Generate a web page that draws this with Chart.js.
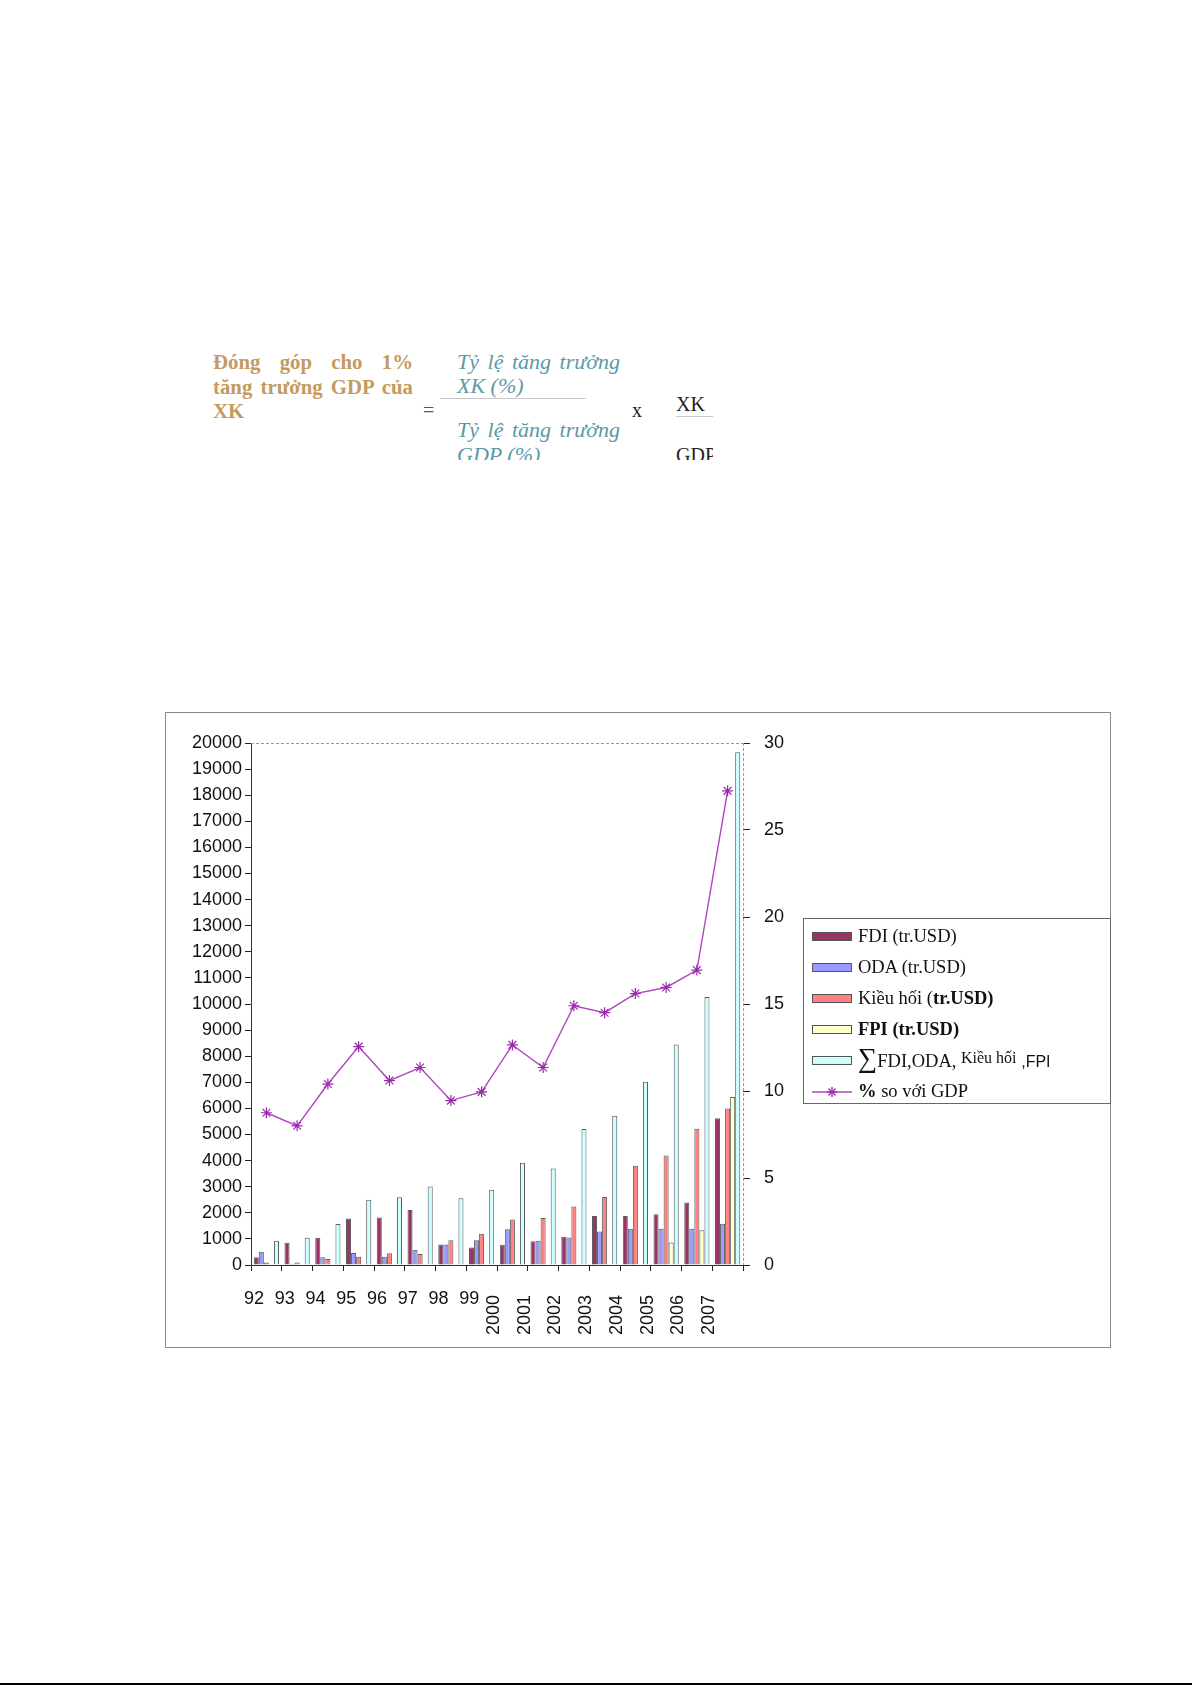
<!DOCTYPE html>
<html>
<head>
<meta charset="utf-8">
<script src="https://cdn.jsdelivr.net/npm/chart.js@4.4.1/dist/chart.umd.min.js"></script>
<style>
body{margin:0;background:#fff;width:1192px;height:1685px;position:relative;overflow:hidden;font-family:"Liberation Serif","Times New Roman",serif}
#formula{position:absolute;left:0;top:340px;width:713px;height:120px;overflow:hidden}
#formula div{position:absolute;white-space:nowrap;font-size:20px;line-height:24px}
#formula .brown{font-size:20.8px}
#formula .teal{font-size:22px}
.brown{color:#c49a5e;font-weight:bold}
.teal{color:#5b99a8;font-style:italic}
.just{text-align:justify;text-align-last:justify;white-space:normal!important;height:24px;overflow:visible}
#box{position:absolute;left:165px;top:712px;width:946px;height:636px;box-sizing:border-box;border:1px solid #8a8a8a}
#grafico{position:absolute;left:0;top:0}
#legend{position:absolute;left:803px;top:918px;width:308px;height:186px;box-sizing:border-box;border:1px solid #666;background:#fff}
.item{position:absolute;left:8px;height:31px;display:flex;align-items:center;font-size:18.5px;color:#111;white-space:nowrap}
.sw{width:40px;height:9px;border:1px solid #555;margin-right:6px;box-sizing:border-box}
#bottomLine{position:absolute;left:0;top:1683px;width:1192px;height:2px;background:#000}
</style>
</head>
<body>

<div id="formula">
  <div class="brown just" style="left:213px;top:10px;width:200px">Đóng góp cho 1%</div>
  <div class="brown just" style="left:213px;top:35px;width:200px">tăng trưởng GDP của</div>
  <div class="brown" style="left:213px;top:59px">XK</div>
  <div style="left:423px;top:58px;color:#555">=</div>
  <div class="teal just" style="left:457px;top:10px;width:163px">Tỷ lệ tăng trưởng</div>
  <div class="teal" style="left:457px;top:34px">XK (%)</div>
  <div style="left:440px;top:58px;width:146px;height:1px;background:#c8c8c8"></div>
  <div class="teal just" style="left:457px;top:78px;width:163px">Tỷ lệ tăng trưởng</div>
  <div class="teal" style="left:457px;top:103px">GDP (%)</div>
  <div style="left:632px;top:58px;color:#222">x</div>
  <div style="left:676px;top:52px;color:#222">XK</div>
  <div style="left:676px;top:76px;width:37px;height:1px;background:#c8c8c8"></div>
  <div style="left:676px;top:103px;color:#222">GDP</div>
</div>

<div id="box"><canvas id="grafico" width="944" height="634"></canvas></div>
<div id="legend"></div>
<div id="bottomLine"></div>

<script>
let years = ["92","93","94","95","96","97","98","99","2000","2001","2002","2003","2004","2005","2006","2007"];

let fdi     = [300, 850, 1040, 1780, 1820, 2110, 790, 670, 780, 910, 1080, 1880, 1880, 1940, 2390, 5620];
let oda     = [510, 50, 300, 460, 320, 580, 790, 950, 1370, 930, 1050, 1280, 1390, 1390, 1390, 1580];
let kieuHoi = [100, 100, 230, 320, 450, 420, 950, 1200, 1740, 1800, 2240, 2610, 3800, 4200, 5220, 6000];
let fpi     = [0, 0, 0, 0, 0, 0, 0, 0, 0, 0, 0, 0, 0, 860, 1330, 6440];
let tong    = [930, 1040, 1570, 2500, 2600, 3010, 2560, 2880, 3920, 3700, 5210, 5720, 7020, 8450, 10270, 19650];
let soVoiGDP = [8.75, 8.0, 10.4, 12.55, 10.6, 11.35, 9.45, 9.95, 12.65, 11.35, 14.9, 14.5, 15.6, 15.95, 16.95, 27.25];

let seriesNames = ["FDI (tr.USD)", "ODA (tr.USD)", "Kiều hối (tr.USD)", "FPI (tr.USD)", "∑FDI,ODA, Kiều hối ,FPI", "% so với GDP"];

let leftTicks = [0, 20000, 1000];
let rightTicks = [0, 30, 5];

let axisFont = {family: '"Liberation Sans", Arial, sans-serif', size: 18};

function bar(label, data, color){
return {
type: "bar",
label: label,
data: data,
backgroundColor: color,
borderColor: "#5a5a5a",
borderWidth: 1,
borderSkipped: "bottom",
categoryPercentage: 0.82,
barPercentage: 1.0,
yAxisID: "y",
order: 1
};
}

// nhan truc x va khung net dut
const khung = {
id: "khung",
beforeDatasetsDraw(chart){
let ctx = chart.ctx, a = chart.chartArea;
ctx.save();
ctx.strokeStyle = "#9a9a9a";
ctx.lineWidth = 1;
ctx.setLineDash([3, 2]);
ctx.beginPath();
ctx.moveTo(a.left, a.top + 0.5);
ctx.lineTo(a.right, a.top + 0.5);
ctx.moveTo(a.right + 0.5, a.top);
ctx.lineTo(a.right + 0.5, a.bottom);
ctx.stroke();
ctx.restore();
},
afterDraw(chart){
let ctx = chart.ctx, xs = chart.scales.x, a = chart.chartArea;
let half = (xs.getPixelForTick(1) - xs.getPixelForTick(0)) / 2;
ctx.save();
ctx.fillStyle = "#111";
ctx.font = axisFont.size + "px " + axisFont.family;
chart.data.labels.forEach((lbl, i) => {
let x0 = xs.getPixelForTick(i) - half;
if(lbl.length <= 2){
ctx.textAlign = "center";
ctx.textBaseline = "middle";
ctx.fillText(lbl, x0 + 3, a.bottom + 34);
} else {
ctx.save();
ctx.translate(x0 - 3, a.bottom + 30);
ctx.rotate(-Math.PI / 2);
ctx.textAlign = "right";
ctx.textBaseline = "middle";
ctx.fillText(lbl, 0, 0);
ctx.restore();
}
});
ctx.restore();
}
};

let ctx = document.getElementById("grafico").getContext("2d");

window.miGrafico = new Chart(ctx, {
data: {
labels: years,
datasets: [
bar(seriesNames[0], fdi, "#993366"),
bar(seriesNames[1], oda, "#9999ff"),
bar(seriesNames[2], kieuHoi, "#ff8080"),
bar(seriesNames[3], fpi, "#ffffcc"),
bar(seriesNames[4], tong, "#ccffff"),
{
type: "line",
label: seriesNames[5],
data: soVoiGDP,
yAxisID: "y1",
borderColor: "#b044c0",
backgroundColor: "#b044c0",
borderWidth: 1.4,
tension: 0,
pointStyle: "star",
pointRadius: 5.5,
pointBorderColor: "#9a2aac",
pointBorderWidth: 1.2,
order: 0
}
]
},
options: {
responsive: false,
animation: false,
devicePixelRatio: 1,
layout: {padding: {top: 30, left: 0, right: 307, bottom: 0}},
plugins: {legend: {display: false}, tooltip: {enabled: false}},
scales: {
x: {
grid: {offset: true, drawOnChartArea: false, tickLength: 6, tickColor: "#222"},
border: {color: "#333", width: 1},
ticks: {display: false},
afterFit: s => { s.height = 82; }
},
y: {
position: "left",
min: leftTicks[0],
max: leftTicks[1],
ticks: {stepSize: leftTicks[2], autoSkip: false, padding: 3, color: "#111", font: axisFont, callback: v => String(v)},
grid: {drawOnChartArea: false, tickLength: 6, tickColor: "#222"},
border: {color: "#333", width: 1},
afterFit: s => { s.width = 85; }
},
y1: {
position: "right",
min: rightTicks[0],
max: rightTicks[1],
ticks: {stepSize: rightTicks[2], padding: 14, color: "#111", font: axisFont, callback: v => String(v)},
grid: {drawOnChartArea: false, tickLength: 7, tickColor: "#222"},
border: {display: false},
afterFit: s => { s.width = 60; }
}
}
},
plugins: [khung]
});

// chu giai
let ghiChu = [
"FDI (tr.USD)",
"ODA (tr.USD)",
"Kiều hối (<b>tr.USD)</b>",
"<b>FPI (tr.USD)</b>",
"<span style=\"font-size:27px;line-height:16px\">∑</span>FDI,ODA, <span style=\"font-size:16px;position:relative;top:-4px\">Kiều hối</span> <span style=\"font-family:'Liberation Sans',Arial;font-size:16px\">,FPI</span>",
"<b>%</b> so với GDP"
];

let legendBox = document.getElementById("legend");
window.miGrafico.data.datasets.forEach((ds, i) => {
let row = document.createElement("div");
row.className = "item";
row.style.top = (2 + i * 31) + "px";
let mark;
if(ds.type === "line"){
mark = `<svg width="40" height="14" style="margin-right:6px"><line x1="0" y1="7" x2="40" y2="7" stroke="${ds.borderColor}" stroke-width="1.3"/>
<g stroke="${ds.pointBorderColor}" stroke-width="1.3"><line x1="15" y1="7" x2="25" y2="7"/><line x1="20" y1="2" x2="20" y2="12"/><line x1="16.5" y1="3.5" x2="23.5" y2="10.5"/><line x1="23.5" y1="3.5" x2="16.5" y2="10.5"/></g></svg>`;
} else {
mark = `<div class="sw" style="background:${ds.backgroundColor}"></div>`;
}
row.innerHTML = mark + "<span>" + ghiChu[i] + "</span>";
legendBox.appendChild(row);
});
</script>
</body>
</html>
